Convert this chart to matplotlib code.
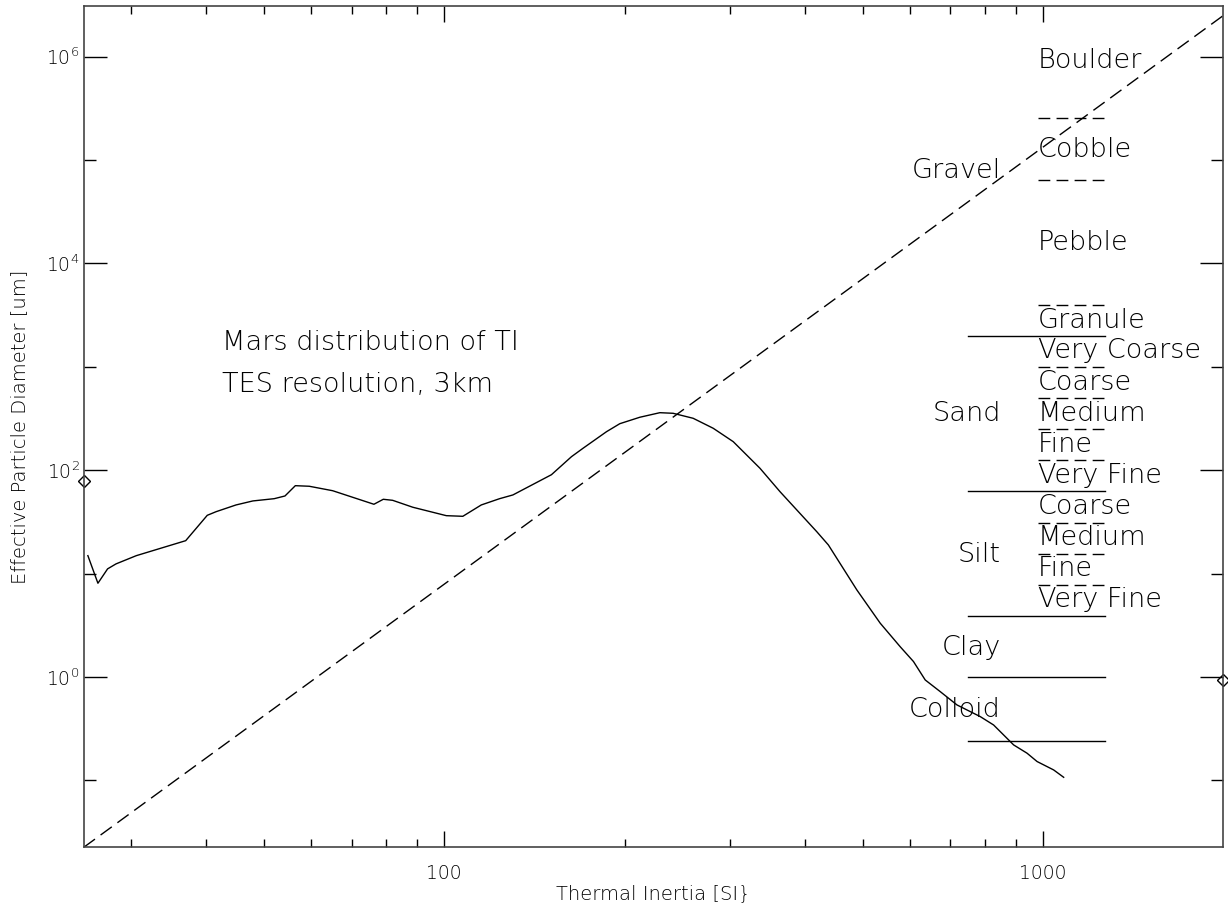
#!/usr/bin/env python3
"""
Effective particle diameter vs thermal inertia, with the Mars TI
distribution and the Wentworth grain size classes overlaid.
"""

import math

import matplotlib

matplotlib.use("Agg")

import matplotlib.pyplot as plt  # noqa: E402
from matplotlib.ticker import FixedLocator, NullFormatter  # noqa: E402

# ── Mars TI distribution (TES, 3 km) ──────────────────────────
dist_ti = [
    25.4, 26.4, 27.4, 28.3, 30.6, 37.0, 40.2, 41.6, 44.9, 47.9,
    52.0, 54.2, 56.4, 59.5, 65.1, 76.3, 79.1, 82.0, 88.6, 100.8,
    107.4, 115.3, 123.7, 130.2, 151.0, 163.1, 170.5, 186.6, 196.4, 212.1,
    229.1, 241.1, 260.4, 281.3, 303.8, 336.7, 363.7, 418.9, 438.0, 488.7,
    534.6, 577.3, 607.5, 635.6, 673.4, 718.2, 785.6, 826.8, 893.0, 940.2,
    977.2, 1041.6, 1082.4,
]
dist_d = [
    14.9, 8.06, 11.1, 12.4, 14.9, 20.8, 36.6, 39.7, 46.1, 50.4,
    53.0, 56.3, 70.8, 69.9, 63.3, 46.8, 52.3, 51.1, 43.8, 36.3,
    35.8, 46.1, 53.0, 57.6, 90.4, 135.1, 162.9, 235.6, 281.6, 325.0,
    359.8, 355.0, 317.6, 254.2, 188.7, 104.3, 61.9, 25.4, 18.9, 6.94,
    3.31, 1.96, 1.41, 0.935, 0.721, 0.536, 0.413, 0.343, 0.220, 0.183,
    0.152, 0.126, 0.107,
]

# ── TI -> particle size relation (dashed) ─────────────────────
relation_ti = [25, 2000]
relation_d = [0.0225, 2.5e6]

# ── Edge markers ──────────────────────────────────────────────
marker_ti = [25, 2000]
marker_d = [79, 0.935]

# ── Grain size classes [um] ───────────────────────────────────
major_bounds = [2000, 62.5, 3.9, 1.0, 0.24]
minor_bounds = [2.56e5, 6.4e4, 4000, 1000, 500, 250, 125, 31, 15.6, 7.8]
major_ti = [750, 1270]
minor_ti = [980, 1270]

group_names = ["Gravel", "Sand", "Silt", "Clay", "Colloid"]
group_d = [6.65e4, 300, 13, 1.63, 0.413]
group_ti = 850

class_names = [
    "Boulder", "Cobble", "Pebble", "Granule", "Very Coarse", "Coarse",
    "Medium", "Fine", "Very Fine", "Coarse", "Medium", "Fine", "Very Fine",
]
class_d = [7.7e5, 1.08e5, 1.35e4, 2370, 1210, 600, 300, 150, 75, 37.5, 18.8, 9.4, 4.7]
class_ti = 980

notes = ["Mars distribution of TI", "TES resolution, 3km"]
notes_d = [1453, 574]
notes_ti = 42.6

# ── Axes ──────────────────────────────────────────────────────
x_range = (25, 2000)
y_range = (0.0225, 3.07e6)
x_major = [100, 1000]
x_minor = [30, 40, 50, 60, 70, 80, 90, 200, 300, 400, 500, 600, 700, 800, 900]
y_major = [1, 1e2, 1e4, 1e6]
y_minor = [0.1, 10, 1e3, 1e5]


def main() -> None:
    plt.rcParams["font.family"] = ["DejaVu Sans"]
    plt.rcParams["font.weight"] = "light"
    plt.rcParams["mathtext.fontset"] = "custom"
    plt.rcParams["mathtext.rm"] = "DejaVu Sans:light"
    plt.rcParams["mathtext.default"] = "rm"
    ink = "black"
    label_kw = dict(va="baseline", fontsize=19.5)

    fig = plt.figure(figsize=(12.28, 9.10), dpi=100)
    ax = fig.add_axes([0.0682, 0.0689, 0.928, 0.9242])
    ax.set_xscale("log")
    ax.set_yscale("log")
    ax.set_xlim(*x_range)
    ax.set_ylim(*y_range)

    # ── Curves ────────────────────────────────────────────────
    ax.plot(dist_ti, dist_d, color=ink, lw=1.0)
    ax.plot(relation_ti, relation_d, color=ink, lw=1.0, ls=(0, (10, 5)))
    ax.plot(marker_ti, marker_d, ls="none", marker="D", ms=6.5,
            mfc="none", mec=ink, mew=1.0, clip_on=False)

    # ── Class boundaries ──────────────────────────────────────
    for d in major_bounds:
        ax.plot(major_ti, [d, d], color=ink, lw=1.0)
    for d in minor_bounds:
        ax.plot(minor_ti, [d, d], color=ink, lw=1.0, ls=(0, (8.5, 4.5)))

    for name, d in zip(group_names, group_d):
        ax.text(group_ti, d, name, ha="right", **label_kw)
    for name, d in zip(class_names, class_d):
        ax.text(class_ti, d, name, ha="left", **label_kw)
    for note, d in zip(notes, notes_d):
        ax.text(notes_ti, d, note, ha="left", **label_kw)

    # ── Ticks ─────────────────────────────────────────────────
    ax.xaxis.set_major_locator(FixedLocator(x_major))
    ax.xaxis.set_minor_locator(FixedLocator(x_minor))
    ax.set_xticklabels([str(v) for v in x_major])
    ax.xaxis.set_minor_formatter(NullFormatter())
    ax.yaxis.set_major_locator(FixedLocator(y_major))
    ax.yaxis.set_minor_locator(FixedLocator(y_minor))
    ax.set_yticklabels([r"$10^{%d}$" % round(math.log10(v)) for v in y_major])
    ax.yaxis.set_minor_formatter(NullFormatter())

    ax.tick_params(which="both", direction="in", top=True, right=True,
                   color=ink, width=1.0, labelsize=13.5)
    ax.tick_params(axis="x", which="major", length=11.5, pad=12)
    ax.tick_params(axis="x", which="minor", length=6.1)
    ax.tick_params(axis="y", which="major", length=16.6, pad=3)
    ax.tick_params(axis="y", which="minor", length=8.4)

    for spine in ax.spines.values():
        spine.set_color("#444444")
        spine.set_linewidth(1.2)

    fig.text(653.5 / 1228, 1 - 894 / 910, "Thermal Inertia [SI}",
             ha="center", va="center", fontsize=14)
    fig.text(20 / 1228, 1 - 427 / 910, "Effective Particle Diameter [um]",
             ha="center", va="center", rotation=90, fontsize=14)

    fig.savefig("out.png", dpi=100)
    plt.close(fig)


if __name__ == "__main__":
    main()
